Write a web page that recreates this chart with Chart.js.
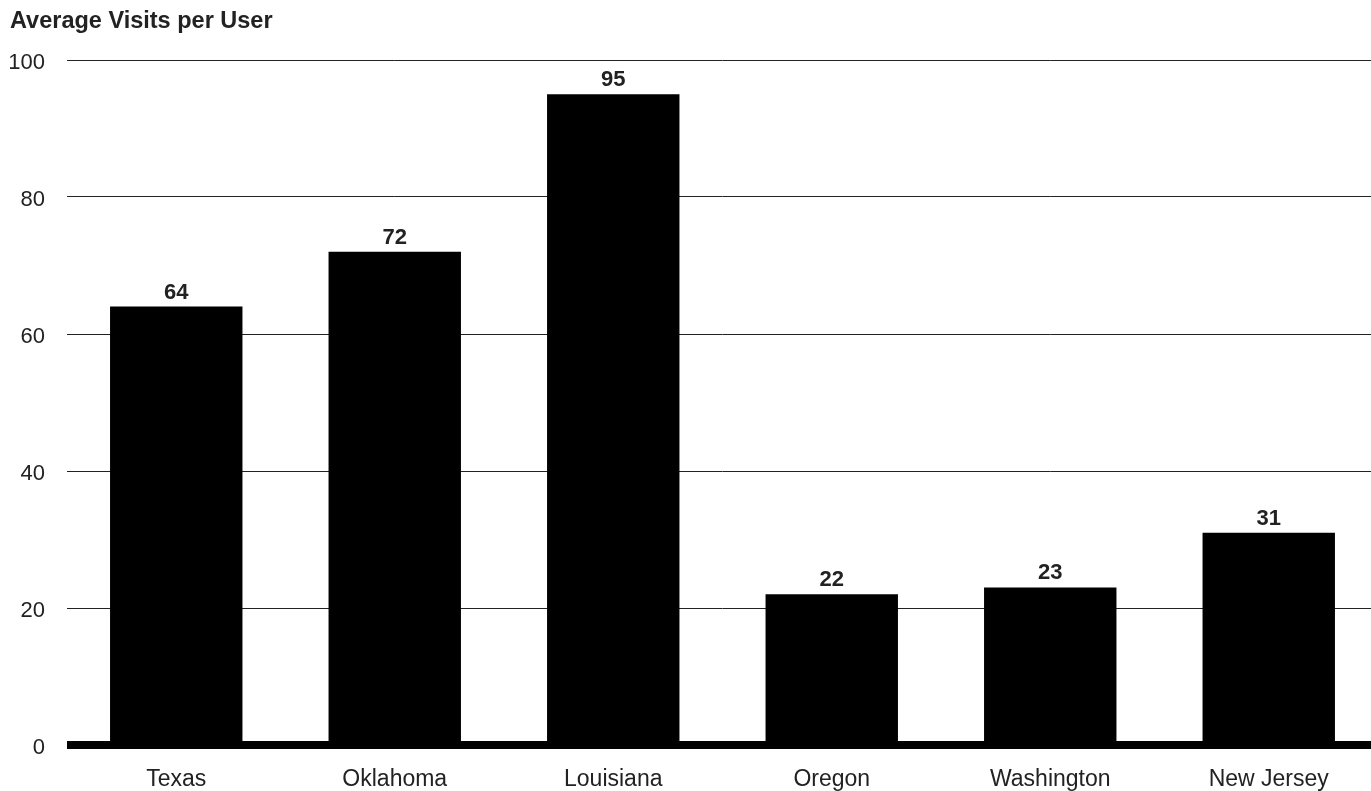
<!DOCTYPE html>
<html>
<head>
<meta charset="utf-8">
<script src="https://cdn.jsdelivr.net/npm/chart.js@4/dist/chart.umd.min.js"></script>
<style>
  html, body { margin: 0; padding: 0; background: #fff; overflow: hidden; }
</style>
</head>
<body>
<canvas id="chart" width="1378" height="791"></canvas>
<script>
// データ
const states = ['Texas', 'Oklahoma', 'Louisiana', 'Oregon', 'Washington', 'New Jersey'];
const visits = [64, 72, 95, 22, 23, 31];
const yTicks = [0, 20, 40, 60, 80, 100];

const FONT = "'Liberation Sans', Arial, Helvetica, sans-serif";
const TEXT = '#222';

// 棒の上に値を描くプラグイン
const valueLabels = {
    id: 'valueLabels',
    afterDatasetsDraw(chart) {
        const ctx = chart.ctx;
        const meta = chart.getDatasetMeta(0);
        ctx.save();
        ctx.font = `bold 22px ${FONT}`;
        ctx.fillStyle = TEXT;
        ctx.textAlign = 'center';
        ctx.textBaseline = 'alphabetic';
        meta.data.forEach((bar, i) => {
            ctx.fillText(String(visits[i]), bar.x, bar.y - 8);
        });
        ctx.restore();
    }
};

new Chart(document.getElementById('chart').getContext('2d'), {
    type: 'bar',
    data: {
        labels: states,
        datasets: [{
            data: visits,
            backgroundColor: '#000',
            borderWidth: 0,
            barPercentage: 0.606,
            categoryPercentage: 1
        }]
    },
    options: {
        responsive: false,
        animation: false,
        layout: { padding: { left: 10, top: 0, right: 0, bottom: 0 } },
        plugins: {
            legend: { display: false },
            tooltip: { enabled: false },
            title: {
                display: true,
                text: 'Average Visits per User',
                align: 'start',
                color: TEXT,
                font: { family: FONT, size: 23.5, weight: 'bold', lineHeight: 1.2 },
                padding: { top: 7, bottom: 24.8 }
            }
        },
        scales: {
            x: {
                grid: { display: false },
                border: { display: false },
                ticks: {
                    color: TEXT,
                    font: { family: FONT, size: 23 },
                    padding: 13,
                    maxRotation: 0,
                    autoSkip: false
                },
                afterFit(scale) { scale.height = 46; }
            },
            y: {
                min: 0,
                max: 100,
                afterBuildTicks(scale) {
                    scale.ticks = yTicks.map(v => ({ value: v }));
                },
                border: { display: false },
                grid: {
                    drawTicks: false,
                    color: ctx => ctx.tick && ctx.tick.value === 0 ? '#000' : '#222',
                    lineWidth: ctx => ctx.tick && ctx.tick.value === 0 ? 8 : 1
                },
                ticks: {
                    color: TEXT,
                    font: { family: FONT, size: 22 },
                    padding: 22,
                    labelOffset: 3
                },
                afterFit(scale) { scale.width = 57; }
            }
        }
    },
    plugins: [valueLabels]
});
</script>
</body>
</html>
